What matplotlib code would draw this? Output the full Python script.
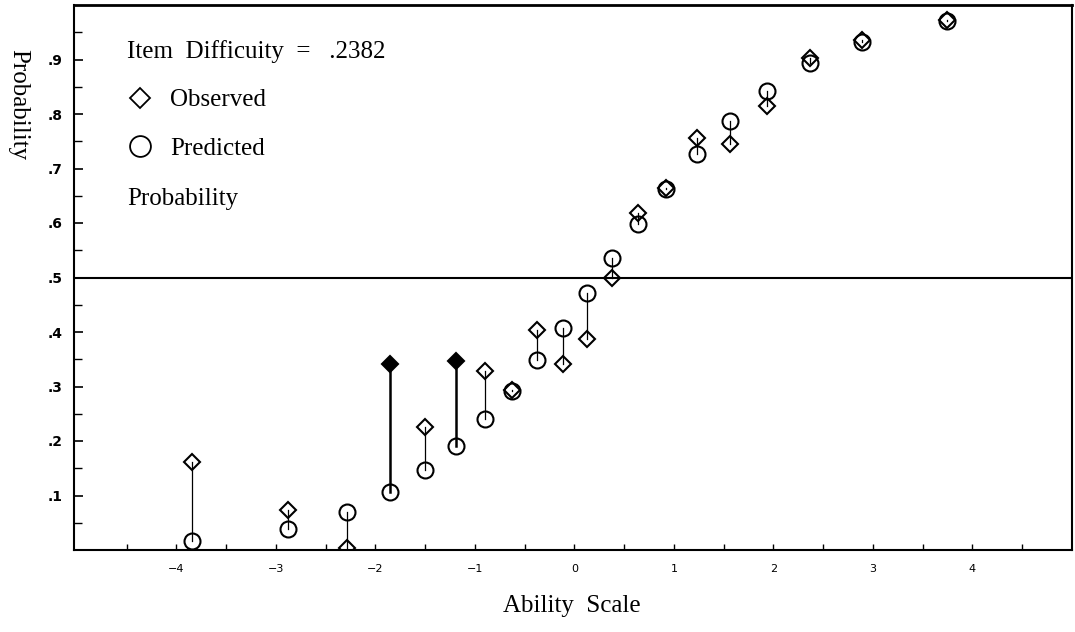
import matplotlib
matplotlib.use("Agg")
import matplotlib.pyplot as plt
from matplotlib.lines import Line2D
from matplotlib.ticker import FixedLocator, FixedFormatter

# ---- data ----
ability = [-3.84, -2.88, -2.29, -1.85, -1.50, -1.19, -0.90, -0.63, -0.38, -0.12,
           0.13, 0.38, 0.64, 0.92, 1.23, 1.56, 1.93, 2.37, 2.89, 3.74]
observed = [0.161, 0.073, 0.004, 0.342, 0.225, 0.346, 0.328, 0.294, 0.403, 0.342,
            0.388, 0.500, 0.619, 0.665, 0.756, 0.745, 0.815, 0.903, 0.936, 0.972]
predicted = [0.016, 0.038, 0.070, 0.106, 0.147, 0.190, 0.240, 0.291, 0.348, 0.408,
             0.471, 0.535, 0.599, 0.662, 0.727, 0.788, 0.842, 0.894, 0.932, 0.970]
misfit = [False, False, False, True, False, True, False, False, False, False,
          False, False, False, False, False, False, False, False, False, False]

x_major = [-4, -3, -2, -1, 0, 1, 2, 3, 4]
x_labels = ["\u22124", "\u22123", "\u22122", "\u22121", "0", "1", "2", "3", "4"]
y_major = [0.1, 0.2, 0.3, 0.4, 0.5, 0.6, 0.7, 0.8, 0.9]
y_labels = [".1", ".2", ".3", ".4", ".5", ".6", ".7", ".8", ".9"]
difficulty_text = "Item  Difficuity  =   .2382"
reference_level = 0.5

W, H = 1075, 632
fig = plt.figure(figsize=(W / 100, H / 100), dpi=100)
ax = fig.add_axes([74 / W, 1 - 550 / H, (1072 - 74) / W, (550 - 5) / H])

serif = "Liberation Serif"

ax.set_xlim(-5.03, 5.0)
ax.set_ylim(0, 1.0)

# reference line at .5
ax.axhline(reference_level, color="black", lw=1.5, zorder=1)

# stems and markers
for xa, ob, pr, mf in zip(ability, observed, predicted, misfit):
    ax.plot([xa, xa], [ob, pr], color="black", lw=1.8 if mf else 0.9, zorder=2)
    ax.plot([xa], [pr], marker="o", ms=11.5, mfc="none", mec="black", mew=1.5,
            ls="none", zorder=3)
    ax.plot([xa], [ob], marker="D", ms=8, mfc="black" if mf else "none",
            mec="black", mew=1.5, ls="none", zorder=4)

# axes styling
for s in ax.spines.values():
    s.set_linewidth(1.5)
ax.spines["top"].set_linewidth(2.0)

ax.xaxis.set_major_locator(FixedLocator(x_major))
ax.xaxis.set_major_formatter(FixedFormatter(x_labels))
ax.xaxis.set_minor_locator(FixedLocator([v + 0.5 for v in [-5] + x_major]))
ax.yaxis.set_major_locator(FixedLocator(y_major))
ax.yaxis.set_major_formatter(FixedFormatter(y_labels))
ax.yaxis.set_minor_locator(FixedLocator([v - 0.05 for v in y_major] + [0.95]))

ax.tick_params(axis="x", which="both", direction="in", length=4.5, width=1.0,
               labelsize=8, pad=10)
ax.tick_params(axis="y", which="major", direction="in", length=6.5, width=1.2,
               labelsize=10, pad=8)
ax.tick_params(axis="y", which="minor", direction="in", length=5.5, width=1.0)
for lab in ax.get_yticklabels():
    lab.set_fontweight("bold")

# axis titles
fig.text(572 / W, 1 - 612 / H, "Ability  Scale", family=serif, fontsize=18,
         ha="center", va="baseline")
fig.text(18 / W, 1 - 105 / H, "Probability", family=serif, fontsize=18,
         rotation=270, ha="center", va="center")

# in-plot legend block
fig.text(127 / W, 1 - 58 / H, difficulty_text, family=serif, fontsize=18,
         ha="left", va="baseline")
fig.text(170 / W, 1 - 106 / H, "Observed", family=serif, fontsize=18,
         ha="left", va="baseline")
fig.text(170 / W, 1 - 155 / H, "Predicted", family=serif, fontsize=18,
         ha="left", va="baseline")
fig.text(127 / W, 1 - 205 / H, "Probability", family=serif, fontsize=18,
         ha="left", va="baseline")
fig.add_artist(Line2D([140 / W], [1 - 98 / H], marker="D", ms=10.5, mfc="none",
                      mec="black", mew=1.3, ls="none", transform=fig.transFigure))
fig.add_artist(Line2D([140 / W], [1 - 146 / H], marker="o", ms=15, mfc="none",
                      mec="black", mew=1.3, ls="none", transform=fig.transFigure))

fig.savefig("out.png", dpi=100)
